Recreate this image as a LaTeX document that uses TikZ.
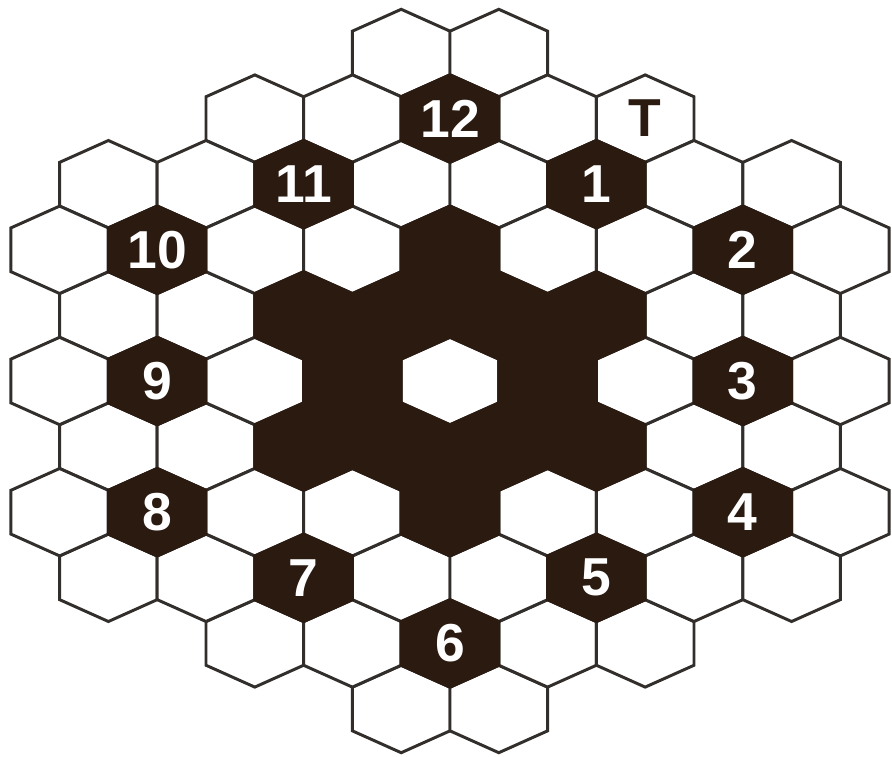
\documentclass[tikz,border=0pt]{standalone}
\usepackage{fontspec}
\setmainfont{Liberation Sans}
\definecolor{boardink}{RGB}{42,26,16}
\definecolor{gridline}{RGB}{50,46,43}
% one pointy-top cell: style, row, column (half steps)
\newcommand{\hexcell}[3]{\path[#1] ({450+#3*48.8},{381+#2*65.6}) ++(0,-43.7) -- ++(48.8,21.85) -- ++(0,43.7) -- ++(-48.8,21.85) -- ++(-48.8,-21.85) -- ++(0,-43.7) -- cycle;}
\begin{document}
\begin{tikzpicture}[x=0.025cm, y=-0.025cm,
    cell/.style={draw=gridline, line width=2.1pt, fill=white},
    darkcell/.style={draw=boardink, line width=2.1pt, fill=boardink},
    numlabel/.style={text=white, inner sep=0pt, font=\fontsize{38}{38}\selectfont\bfseries},
    tlabel/.style={text=boardink, inner sep=0pt, font=\fontsize{38}{38}\selectfont\bfseries}]
  \useasboundingbox (0,0) rectangle (892,756);
  % white board
  \foreach \r in {-5,5}
    \foreach \k in {-1,1} {\hexcell{cell}{\r}{\k}}
  \foreach \r in {-4,4}
    \foreach \k in {-4,-2,...,4} {\hexcell{cell}{\r}{\k}}
  \foreach \r in {-3,-1,1,3}
    \foreach \k in {-7,-5,...,7} {\hexcell{cell}{\r}{\k}}
  \foreach \r in {-2,0,2}
    \foreach \k in {-8,-6,...,8} {\hexcell{cell}{\r}{\k}}
  % dark star round the centre
  \foreach \r/\k in {-2/0, -1/-3, -1/-1, -1/1, -1/3, 0/-2, 0/2, 1/-3, 1/-1, 1/1, 1/3, 2/0}
    {\hexcell{darkcell}{\r}{\k}}
  % numbered cells
  \foreach \r/\k/\n in {-4/0/12, -3/3/1, -2/6/2, 0/6/3, 2/6/4, 3/3/5, 4/0/6, 3/-3/7, 2/-6/8, 0/-6/9, -2/-6/10, -3/-3/11} {
    \hexcell{darkcell}{\r}{\k}
    \node[numlabel] (num\n) at ({450+\k*48.8},{381+\r*65.6}) {\n};
  }
  \node[tlabel] (start) at ({450+4*48.8},{381-4*65.6}) {T};
\end{tikzpicture}
\end{document}
